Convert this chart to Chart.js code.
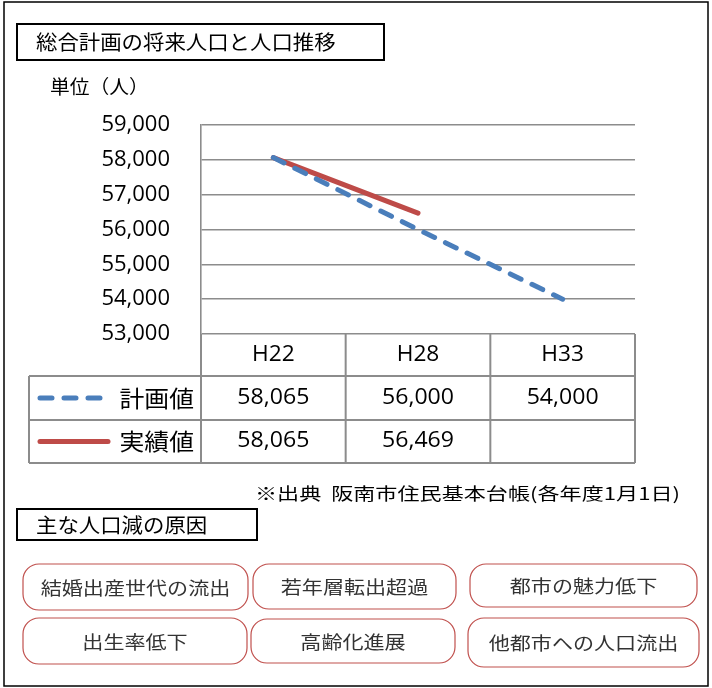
<!DOCTYPE html>
<html>
<head>
<meta charset="utf-8">
<script src="https://cdn.jsdelivr.net/npm/chart.js@4.4.1/dist/chart.umd.min.js"></script>
<style>
  html, body { margin: 0; padding: 0; background: #fff; }
  #chart { display: block; }
</style>
</head>
<body>
<canvas id="chart" width="712" height="688"></canvas>
<script>
// データ
const categories = ['H22', 'H28', 'H33'];
const seriesNames = ['計画値', '実績値'];
const planValues = [58065, 56000, 54000];
const actualValues = [58065, 56469, null];
const yTicks = [53000, 54000, 55000, 56000, 57000, 58000, 59000];
const causes = [
    '結婚出産世代の流出', '若年層転出超過', '都市の魅力低下',
    '出生率低下', '高齢化進展', '他都市への人口流出'
];
const titleText = '総合計画の将来人口と人口推移';
const unitText = '単位（人）';
const sourceText = '※出典  阪南市住民基本台帳(各年度1月1日)';
const causeTitle = '主な人口減の原因';

const BLUE = '#4a7ebb';
const RED = '#be4b48';
const GRID = '#8c8c8c';
const JP = '"Noto Sans CJK JP", "Noto Sans", sans-serif';
const NUM = '"Open Sans", sans-serif';

const fmt = v => v.toLocaleString('en-US');

// 横に引き伸ばした文字を描く
function drawText(ctx, str, x, y, size, opts) {
    opts = opts || {};
    const sx = opts.sx || 1;
    ctx.save();
    ctx.font = (opts.weight || '') + ' ' + size + 'px ' + (opts.family || JP);
    ctx.fillStyle = opts.color || '#000';
    ctx.textBaseline = 'middle';
    const w = ctx.measureText(str).width * sx;
    let left = x;
    if (opts.align === 'center') left = x - w / 2;
    if (opts.align === 'right') left = x - w;
    ctx.translate(left, y);
    ctx.scale(sx, 1);
    ctx.textAlign = 'left';
    ctx.fillText(str, 0, 0);
    ctx.restore();
}

function roundRect(ctx, x, y, w, h, r) {
    ctx.beginPath();
    ctx.moveTo(x + r, y);
    ctx.arcTo(x + w, y, x + w, y + h, r);
    ctx.arcTo(x + w, y + h, x, y + h, r);
    ctx.arcTo(x, y + h, x, y, r);
    ctx.arcTo(x, y, x + w, y, r);
    ctx.closePath();
}

// 表・枠・文字を描くプラグイン
const decorPlugin = {
    id: 'decor',
    beforeDraw(chart) {
        const ctx = chart.ctx;
        ctx.save();
        ctx.fillStyle = '#fff';
        ctx.fillRect(0, 0, chart.width, chart.height);
        ctx.restore();
    },
    afterDraw(chart) {
        const ctx = chart.ctx;
        const ca = chart.chartArea;
        const xs = chart.scales.x;
        const colW = ca.width / categories.length;

        ctx.save();
        // 外枠
        ctx.strokeStyle = '#000';
        ctx.lineWidth = 1.5;
        ctx.strokeRect(4, 2, 704, 684);

        // タイトル
        ctx.lineWidth = 2;
        ctx.strokeRect(17, 24, 367, 36);
        drawText(ctx, titleText, 36, 42, 20, { sx: 1.07 });
        drawText(ctx, unitText, 50, 87, 19, { sx: 1.04 });

        // データ表
        const rowH = [42, 44, 43];
        const y0 = ca.bottom;
        const y1 = y0 + rowH[0];
        const y2 = y1 + rowH[1];
        const y3 = y2 + rowH[2];
        const tableLeft = 29;
        ctx.strokeStyle = GRID;
        ctx.lineWidth = 2;
        ctx.beginPath();
        for (let i = 0; i <= categories.length; i++) {
            const x = ca.left + i * colW;
            ctx.moveTo(x, y0);
            ctx.lineTo(x, y3);
        }
        ctx.moveTo(tableLeft, y1); ctx.lineTo(ca.right, y1);
        ctx.moveTo(tableLeft, y2); ctx.lineTo(ca.right, y2);
        ctx.moveTo(tableLeft, y3); ctx.lineTo(ca.right, y3);
        ctx.moveTo(tableLeft, y1); ctx.lineTo(tableLeft, y3);
        ctx.stroke();

        const rows = [planValues, actualValues];
        const rowMid = [(y1 + y2) / 2, (y2 + y3) / 2];
        categories.forEach((c, i) => {
            const cx = xs.getPixelForValue(i);
            drawText(ctx, c, cx, (y0 + y1) / 2, 21, { family: NUM, align: 'center', sx: 1.08 });
            rows.forEach((vals, r) => {
                if (vals[i] != null) {
                    drawText(ctx, fmt(vals[i]), cx, rowMid[r], 21, { family: NUM, align: 'center', sx: 1.1 });
                }
            });
        });

        // 凡例
        ctx.lineCap = 'round';
        ctx.lineWidth = 5;
        ctx.strokeStyle = BLUE;
        ctx.setLineDash([12, 12]);
        ctx.beginPath();
        ctx.moveTo(40, rowMid[0]); ctx.lineTo(102, rowMid[0]);
        ctx.stroke();
        ctx.setLineDash([]);
        ctx.strokeStyle = RED;
        ctx.beginPath();
        ctx.moveTo(40, rowMid[1]); ctx.lineTo(108, rowMid[1]);
        ctx.stroke();
        drawText(ctx, seriesNames[0], 194, rowMid[0], 23, { align: 'right', sx: 1.08 });
        drawText(ctx, seriesNames[1], 194, rowMid[1], 23, { align: 'right', sx: 1.08 });

        // 出典
        drawText(ctx, sourceText, 680, 494, 17, { align: 'right', sx: 1.3 });

        // 原因
        ctx.lineCap = 'butt';
        ctx.strokeStyle = '#000';
        ctx.lineWidth = 2;
        ctx.strokeRect(17, 509, 240, 31);
        drawText(ctx, causeTitle, 36, 525, 20, { sx: 1.07 });

        const boxes = [
            [23, 564, 225, 46], [253, 564, 203, 45], [470, 564, 227, 43],
            [23, 618, 224, 46], [251, 619, 204, 44], [468, 618, 231, 49]
        ];
        ctx.strokeStyle = '#c0504d';
        ctx.lineWidth = 1.2;
        boxes.forEach((b, i) => {
            roundRect(ctx, b[0], b[1], b[2], b[3], 16);
            ctx.stroke();
            drawText(ctx, causes[i], b[0] + b[2] / 2, b[1] + b[3] / 2 + 1, 18,
                { align: 'center', sx: 1.17, color: '#333' });
        });
        ctx.restore();
    }
};

new Chart(document.getElementById('chart'), {
    type: 'line',
    data: {
        labels: categories,
        datasets: [
            {
                label: seriesNames[0],
                data: planValues,
                borderColor: BLUE,
                borderWidth: 5,
                borderDash: [12, 12],
                borderCapStyle: 'round',
                pointRadius: 0,
                tension: 0,
                fill: false
            },
            {
                label: seriesNames[1],
                data: actualValues,
                borderColor: RED,
                borderWidth: 5,
                borderCapStyle: 'round',
                pointRadius: 0,
                tension: 0,
                fill: false
            }
        ]
    },
    options: {
        responsive: false,
        animation: false,
        devicePixelRatio: 1,
        layout: {
            padding: { left: 20, top: 125, right: 77, bottom: 354 }
        },
        plugins: {
            legend: { display: false },
            tooltip: { enabled: false }
        },
        scales: {
            x: {
                display: false,
                offset: true
            },
            y: {
                min: yTicks[0],
                max: yTicks[yTicks.length - 1],
                afterFit: function(scale) { scale.width = 181; },
                afterBuildTicks: function(scale) {
                    scale.ticks = yTicks.map(v => ({ value: v }));
                },
                grid: {
                    color: GRID,
                    lineWidth: 1.6,
                    drawTicks: false
                },
                border: { display: true, color: GRID, width: 1.6 },
                ticks: {
                    padding: 31,
                    color: '#000',
                    font: { family: 'Open Sans', size: 22 },
                    callback: function(v) { return fmt(v); }
                }
            }
        }
    },
    plugins: [decorPlugin]
});
</script>
</body>
</html>
